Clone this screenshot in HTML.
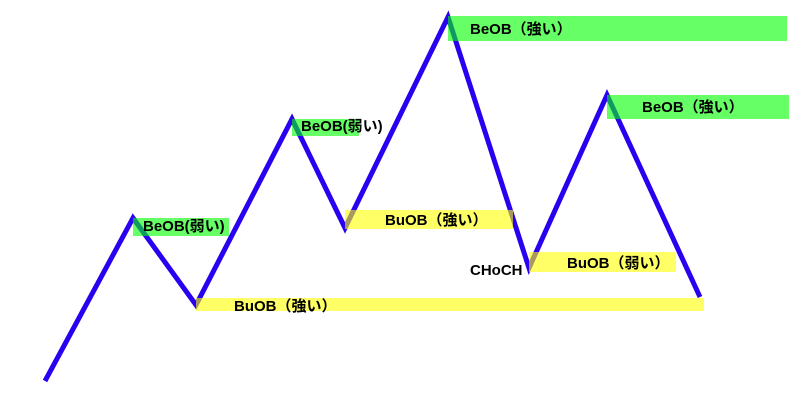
<!DOCTYPE html>
<html><head><meta charset="utf-8"><style>
html,body{margin:0;padding:0;background:#fff;width:800px;height:400px;overflow:hidden}
text{font-family:"Liberation Sans","Noto Sans CJK JP",sans-serif;font-weight:bold;font-size:15px;fill:#000}
</style></head><body>
<svg width="800" height="400" viewBox="0 0 800 400">
<polyline points="45,381 133,218 196,305 292,119 345,228 448,17 529,268 607,95 700,297" fill="none" stroke="#2a00f0" stroke-width="5" stroke-linejoin="miter"/>
<g fill="rgb(0,255,0)" fill-opacity="0.6">
<rect x="133" y="218" width="96" height="18"/>
<rect x="292" y="119" width="67" height="17"/>
<rect x="448" y="16" width="339" height="25"/>
<rect x="607" y="95" width="182" height="24"/>
</g>
<g fill="rgb(255,255,0)" fill-opacity="0.6">
<rect x="196" y="298" width="508" height="13"/>
<rect x="345" y="210" width="168" height="19"/>
<rect x="529" y="252" width="147" height="20"/>
</g>
<text x="143" y="231">BeOB(弱い)</text>
<text x="301" y="131">BeOB(弱い)</text>
<text x="470" y="34">BeOB（強い）</text>
<text x="642" y="112">BeOB（強い）</text>
<text x="234" y="311">BuOB（強い）</text>
<text x="385" y="225">BuOB（強い）</text>
<text x="567" y="268">BuOB（弱い）</text>
<text x="470" y="275">CHoCH</text>
</svg>
</body></html>
